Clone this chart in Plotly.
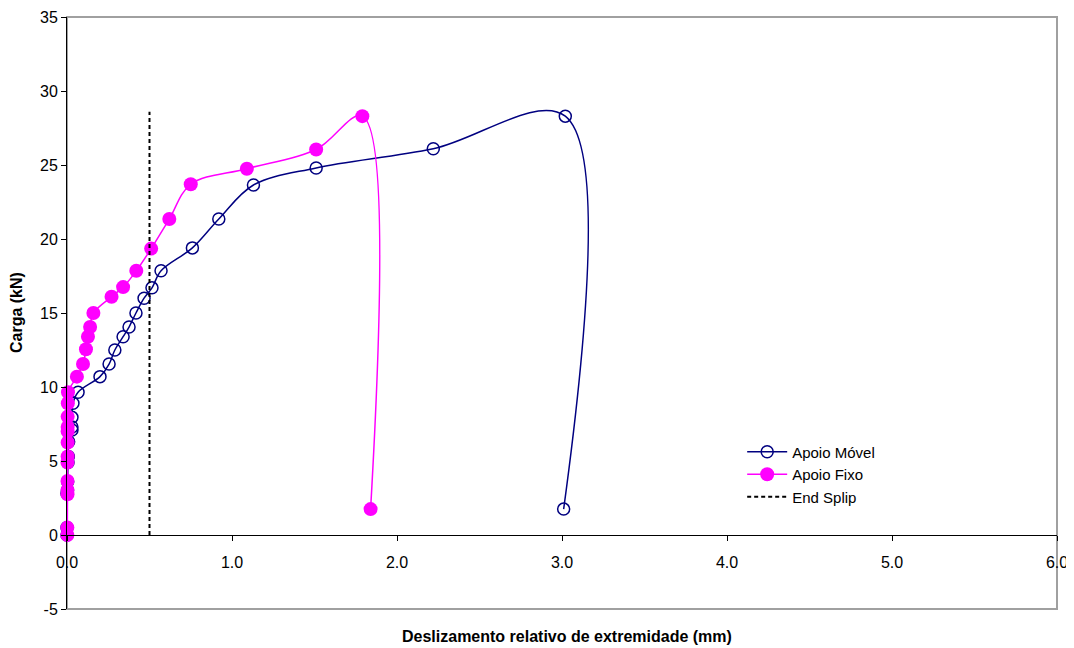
import plotly.graph_objects as go

# Apoio Móvel (navy, open circles)
movel_x = [0.0, 0.0, 0.0, 0.003, 0.004, 0.006, 0.008, 0.01, 0.03, 0.03, 0.03, 0.036, 0.067,
           0.20, 0.255, 0.29, 0.34, 0.376, 0.418, 0.467, 0.515, 0.57, 0.76, 0.92, 1.13, 1.51, 2.22, 3.02, 3.01]
movel_y = [0.0, 0.5, 2.8, 3.0, 3.6, 4.9, 5.3, 6.3, 7.1, 7.3, 7.95, 8.9, 9.65,
           10.7, 11.55, 12.5, 13.4, 14.05, 15.0, 16.0, 16.7, 17.85, 19.4, 21.35, 23.65, 24.8, 26.1, 28.3, 1.75]

# Apoio Fixo (magenta, filled circles)
fixo_x = [0.002, 0.002, 0.003, 0.003, 0.003, 0.003, 0.004, 0.004, 0.004, 0.004, 0.004, 0.005, 0.006,
          0.06, 0.097, 0.115, 0.127, 0.14, 0.16, 0.27, 0.34, 0.42, 0.51, 0.62, 0.75, 1.09, 1.51, 1.79, 1.84]
fixo_y = [0.0, 0.5, 2.75, 3.05, 3.65, 4.9, 5.3, 6.25, 7.0, 7.3, 8.0, 8.9, 9.65,
          10.7, 11.55, 12.55, 13.4, 14.05, 15.0, 16.1, 16.75, 17.85, 19.35, 21.35, 23.7, 24.75, 26.05, 28.3, 1.75]

# End Splip reference line
splip_x = [0.5, 0.5]
splip_y = [0.0, 28.6]

x_ticks = [0, 1, 2, 3, 4, 5, 6]
x_ticklabels = ["0.0", "1.0", "2.0", "3.0", "4.0", "5.0", "6.0"]
y_ticks = [-5, 0, 5, 10, 15, 20, 25, 30, 35]
y_ticklabels = ["-5", "0", "5", "10", "15", "20", "25", "30", "35"]

FONT = "Liberation Sans, Arial, sans-serif"

fig = go.Figure()
fig.add_trace(go.Scatter(
    x=movel_x, y=movel_y, name="Apoio Móvel", mode="lines+markers", cliponaxis=False,
    line=dict(color="#000080", width=1.5, shape="spline", smoothing=1.0),
    marker=dict(symbol="circle-open", size=12, color="#000080", line=dict(width=1.5, color="#000080")),
))
fig.add_trace(go.Scatter(
    x=fixo_x, y=fixo_y, name="Apoio Fixo", mode="lines+markers", cliponaxis=False,
    line=dict(color="#FF00FF", width=1.5, shape="spline", smoothing=1.0),
    marker=dict(symbol="circle", size=14, color="#FF00FF"),
))
fig.add_trace(go.Scatter(
    x=splip_x, y=splip_y, name="End Splip", mode="lines",
    line=dict(color="black", width=2, dash="4px,3px"),
))

fig.update_layout(
    width=1066, height=640,
    margin=dict(l=59, r=17, t=9, b=39, autoexpand=False),
    plot_bgcolor="white", paper_bgcolor="white",
    font=dict(family=FONT, size=16, color="black"),
    showlegend=True,
    legend=dict(x=0.682, y=0.293, xanchor="left", yanchor="top",
                bgcolor="rgba(0,0,0,0)", font=dict(size=15, family=FONT),
                tracegroupgap=0, itemwidth=40),
    xaxis=dict(range=[0, 6], tickvals=x_ticks, ticktext=x_ticklabels, automargin=False,
               showgrid=False, zeroline=False, showline=True, linecolor="black", linewidth=1,
               ticks="outside", ticklen=5, tickcolor="black", ticklabelstandoff=8,
               anchor="free", position=0.125, tickfont=dict(size=16)),
    yaxis=dict(range=[-5, 35], tickvals=y_ticks, ticktext=y_ticklabels, showgrid=False,
               zeroline=False, automargin=False,
               showline=True, linecolor="black", linewidth=1, ticks="outside", ticklen=5,
               tickcolor="black", tickfont=dict(size=16)),
    shapes=[dict(type="rect", xref="paper", yref="paper", x0=0, x1=1, y0=0, y1=1,
                 line=dict(color="#A0A0A0", width=2), layer="below")],
    annotations=[
        dict(text="<b>Deslizamento relativo de extremidade (mm)</b>", xref="paper", yref="paper",
             x=0.505, y=0, yshift=-27, yanchor="middle", showarrow=False, font=dict(size=16)),
        dict(text="<b>Carga (kN)</b>", xref="paper", yref="paper", x=0, xshift=-51, y=0.5,
             textangle=-90, showarrow=False, font=dict(size=16), xanchor="center"),
    ],
)

fig.write_html("out.html")
